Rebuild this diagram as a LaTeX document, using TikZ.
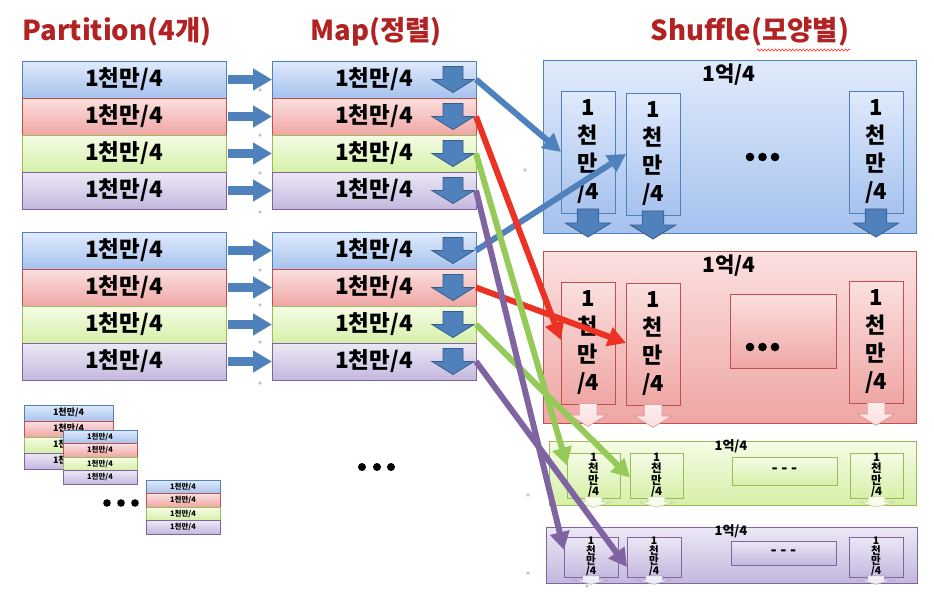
\documentclass[tikz,border=0pt]{standalone}
\usepackage{fontspec}
\setmainfont{Noto Sans CJK KR}
\usetikzlibrary{arrows.meta,decorations.pathmorphing,calc}
\definecolor{cbtop}{RGB}{224,234,251}\definecolor{cbbot}{RGB}{166,194,238}\definecolor{cbline}{RGB}{79,129,189}
\definecolor{crtop}{RGB}{250,224,223}\definecolor{crbot}{RGB}{239,166,164}\definecolor{crline}{RGB}{192,80,77}
\definecolor{cgtop}{RGB}{245,252,230}\definecolor{cgbot}{RGB}{214,240,168}\definecolor{cgline}{RGB}{155,187,89}
\definecolor{cptop}{RGB}{236,232,245}\definecolor{cpbot}{RGB}{196,184,222}\definecolor{cpline}{RGB}{128,100,162}
\definecolor{titlered}{RGB}{178,34,34}
\definecolor{arrfill}{RGB}{79,129,189}\definecolor{arrdraw}{RGB}{56,93,138}
\definecolor{lnblue}{RGB}{79,129,189}\definecolor{lnred}{RGB}{236,50,36}
\definecolor{lngreen}{RGB}{150,202,88}\definecolor{lnpurple}{RGB}{128,100,162}
\tikzset{
  fillbox/.style={top color=#1top, bottom color=#1bot, draw=#1line, line width=0.8pt, inner sep=0pt, outer sep=0pt},
  prow/.style={fillbox=#1, anchor=north west, minimum width=204pt, minimum height=37pt, font=\fontsize{22.5}{22.5}\selectfont\bfseries},
  srowA/.style={fillbox=#1, anchor=north west, minimum width=89pt, minimum height=16pt, font=\fontsize{9}{9}\selectfont\bfseries},
  srowB/.style={fillbox=#1, anchor=north west, minimum width=74pt, minimum height=13.5pt, font=\fontsize{7.5}{7.5}\selectfont\bfseries},
  bigbox/.style={fillbox=#1, anchor=north west},
  colbig/.style={fillbox=#1, anchor=north west, minimum width=54pt, minimum height=122pt, align=center, font=\fontsize{22}{28}\selectfont\bfseries},
  colg/.style={fillbox=#1, anchor=north west, minimum width=53pt, minimum height=45pt, align=center, font=\fontsize{11.5}{11.3}\selectfont\bfseries},
  colp/.style={fillbox=#1, anchor=north west, minimum width=54pt, minimum height=40pt, align=center, font=\fontsize{10.5}{10}\selectfont\bfseries},
  title/.style={text=titlered, font=\fontsize{27.5}{27.5}\selectfont\bfseries, inner sep=0pt},
  lblbig/.style={font=\fontsize{21}{21}\selectfont\bfseries, inner sep=0pt},
  lblsm/.style={font=\fontsize{13}{13}\selectfont\bfseries, inner sep=0pt},
  rarr/.style={draw=arrfill, line width=9pt, -{Triangle[width=21pt,length=19pt]}},
  conn/.style={draw=#1, line width=6pt, -{Triangle[width=19pt,length=18pt]}},
  darr/.pic={\path[pic actions] (-10,-13) -- (10,-13) -- (10,0) -- (21,0) -- (0,13) -- (-21,0) -- (-10,0) -- cycle;},
  dkarr/.style={fill=arrfill, draw=arrdraw, line width=0.8pt},
  ltarr/.style={top color=#1top!60!white, bottom color=#1top, draw=#1line!60, line width=0.6pt},
  graydot/.style={fill=black!22},
}
\begin{document}
\begin{tikzpicture}[x=1pt,y=-1pt]
\useasboundingbox (0,0) rectangle (934,600);
% titles
\node[title] (t1) at (117,32) {Partition(4개)};
\node[title] (t2) at (376,32) {Map(정렬)};
\node[title] (t3) at (750,32) {Shuffle(모양별)};
\draw[red!80, line width=0.6pt, decorate, decoration={zigzag, segment length=3.5pt, amplitude=1.1pt}] (757,50) -- (850,50);
% faint dots
\foreach \p in {(260,90),(260,135),(260,173),(260,212),(260,270),(260,305),(260,342),(260,383),(525,170),(528,495),(528,573),(567,254),(566,362),(587,586)}
  \fill[graydot] \p circle (1.8);
% partition rows
\node[prow=cb] (pa1) at (22,61) {1천만/4};
\node[prow=cr] (pa2) at (22,98) {1천만/4};
\node[prow=cg] (pa3) at (22,135) {1천만/4};
\node[prow=cp] (pa4) at (22,172) {1천만/4};
\node[prow=cb] (pb1) at (22,232) {1천만/4};
\node[prow=cr] (pb2) at (22,269) {1천만/4};
\node[prow=cg] (pb3) at (22,306) {1천만/4};
\node[prow=cp] (pb4) at (22,343) {1천만/4};
% map rows
\node[prow=cb] (ma1) at (272,61) {1천만/4\hspace{38pt}};
\node[prow=cr] (ma2) at (272,98) {1천만/4\hspace{38pt}};
\node[prow=cg] (ma3) at (272,135) {1천만/4\hspace{38pt}};
\node[prow=cp] (ma4) at (272,172) {1천만/4\hspace{38pt}};
\node[prow=cb] (mb1) at (272,232) {1천만/4\hspace{38pt}};
\node[prow=cr] (mb2) at (272,269) {1천만/4\hspace{38pt}};
\node[prow=cg] (mb3) at (272,306) {1천만/4\hspace{38pt}};
\node[prow=cp] (mb4) at (272,343) {1천만/4\hspace{38pt}};
% right arrows and down arrows
\foreach \g in {a,b}{
  \foreach \i in {1,...,4}{
    \draw[rarr] ([xshift=2pt]p\g\i.east) -- (m\g\i.west);
    \pic[dkarr] at ([xshift=-23pt]m\g\i.east) {darr};
  }
}
% small stacks
\node[srowA=cb] (s11) at (24,405) {1천만/4};
\node[srowA=cr] (s12) at (24,421) {1천만/4};
\node[srowA=cg] (s13) at (24,437) {1천만/4};
\node[srowA=cp] (s14) at (24,453) {1천만/4};
\node[srowB=cb] (s21) at (63,430) {1천만/4};
\node[srowB=cr] (s22) at (63,443.5) {1천만/4};
\node[srowB=cg] (s23) at (63,457) {1천만/4};
\node[srowB=cp] (s24) at (63,470.5) {1천만/4};
\node[srowB=cb] (s31) at (146,480) {1천만/4};
\node[srowB=cr] (s32) at (146,493.5) {1천만/4};
\node[srowB=cg] (s33) at (146,507) {1천만/4};
\node[srowB=cp] (s34) at (146,520.5) {1천만/4};
\foreach \x in {107,121,135} \fill (\x,503) circle (3.8);
\foreach \x in {362,377,391} \fill (\x,467) circle (4);
% shuffle blue
\node[bigbox=cb, minimum width=373pt, minimum height=173pt] (B) at (543,60) {};
\node[lblbig] (Bl) at (729,75) {1억/4};
\node[colbig=cb] (sb1) at (561,91) {1\\천\\만\\/4};
\node[colbig=cb] (sb2) at (626,93) {1\\천\\만\\/4};
\node[colbig=cb] (sb3) at (849,91) {1\\천\\만\\/4};
\foreach \x in {750,762.5,775} \fill (\x,157) circle (4.3);
\foreach \n in {sb1,sb2,sb3} \pic[dkarr, scale=1.08] at ([yshift=-10pt]\n.south) {darr};
% shuffle red
\node[bigbox=cr, minimum width=373pt, minimum height=172pt] (R) at (543,251) {};
\node[lblbig] (Rl) at (729,266) {1억/4};
\node[colbig=cr] (sr1) at (561,282) {1\\천\\만\\/4};
\node[colbig=cr] (sr2) at (626,283) {1\\천\\만\\/4};
\node[colbig=cr] (sr3) at (849,281) {1\\천\\만\\/4};
\node[bigbox=cr, minimum width=106pt, minimum height=74pt] (Rd) at (730,294) {};
\foreach \x in {750,762.5,775} \fill (\x,347) circle (4.3);
\foreach \n in {sr1,sr2,sr3} \pic[ltarr=cr, scale=0.88] at ([yshift=-11pt]\n.south) {darr};
% shuffle green
\node[bigbox=cg, minimum width=367pt, minimum height=64pt] (G) at (549,441) {};
\node[lblsm] (Gl) at (731,446) {1억/4};
\node[colg=cg] (sg1) at (567,453) {1\\천\\만\\/4};
\node[colg=cg] (sg2) at (630,453) {1\\천\\만\\/4};
\node[colg=cg] (sg3) at (850,453) {1\\천\\만\\/4};
\node[bigbox=cg, minimum width=105pt, minimum height=28pt, font=\fontsize{16}{16}\selectfont\bfseries] (Gd) at (732,457) {- - -};
\foreach \n in {sg1,sg2,sg3} \pic[ltarr=cg, xscale=0.85, yscale=0.4] at ([yshift=-4pt]\n.south) {darr};
% shuffle purple
\node[bigbox=cp, minimum width=371pt, minimum height=56pt] (P) at (546,527) {};
\node[lblsm] (Pl) at (731,531) {1억/4};
\node[colp=cp] (sp1) at (564,537) {1\\천\\만\\/4};
\node[colp=cp] (sp2) at (627,537) {1\\천\\만\\/4};
\node[colp=cp] (sp3) at (849,537) {1\\천\\만\\/4};
\node[bigbox=cp, minimum width=105pt, minimum height=24pt, font=\fontsize{16}{16}\selectfont\bfseries] (Pd) at (731,541) {- - -};
\foreach \n in {sp1,sp2,sp3} \pic[ltarr=cp, xscale=0.85, yscale=0.33] at ([yshift=-3pt]\n.south) {darr};
% connectors
\draw[conn=lnblue] (ma1.east) -- (sb1.west);
\draw[conn=lnblue] (mb1.east) -- (sb2.west);
\draw[conn=lnred] (ma2.east) -- ([yshift=3pt]sr1.west);
\draw[conn=lnred] (mb2.east) -- ([yshift=1pt]sr2.west);
\draw[conn=lngreen] (ma3.east) -- ([yshift=10pt]sg1.west);
\draw[conn=lngreen] (mb3.east) -- ([yshift=-2pt]sg2.west);
\draw[conn=lnpurple] (ma4.east) -- ([yshift=7pt]sp1.west);
\draw[conn=lnpurple] (mb4.east) -- ([yshift=-10pt]sp2.west);
\end{tikzpicture}
\end{document}
